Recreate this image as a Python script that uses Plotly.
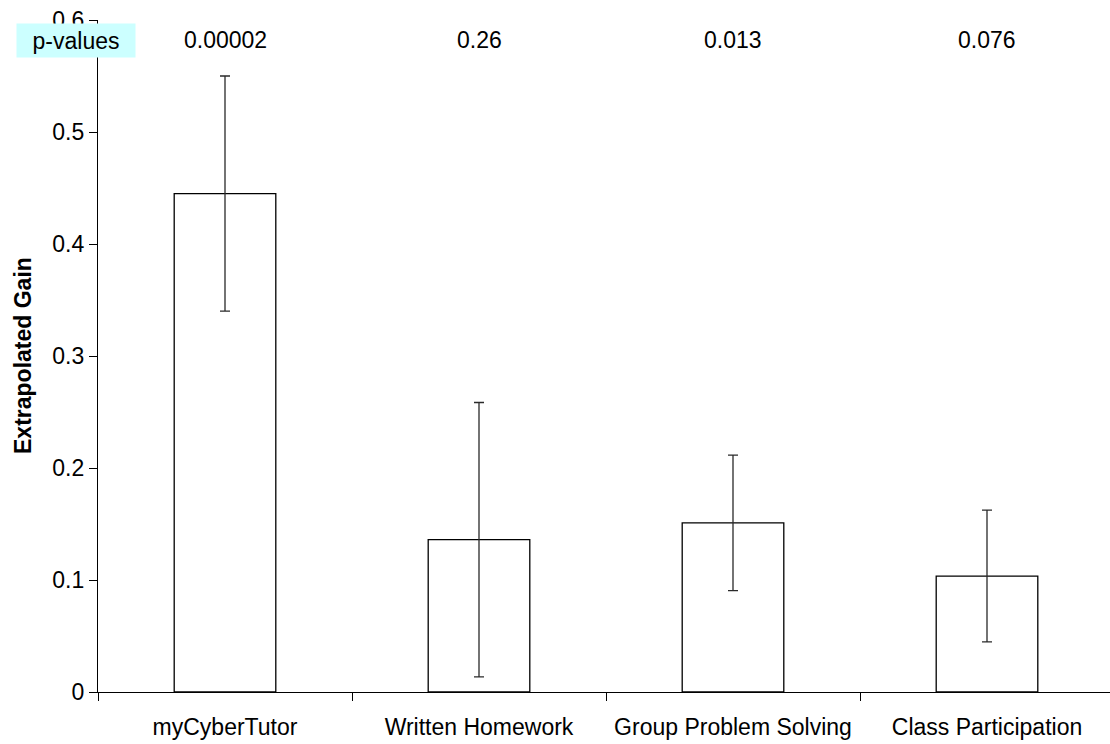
import plotly.graph_objects as go

categories = ["myCyberTutor", "Written Homework", "Group Problem Solving", "Class Participation"]
gain = [0.445, 0.136, 0.151, 0.1035]
err = [0.105, 0.1225, 0.0605, 0.0588]
p_values = ["0.00002", "0.26", "0.013", "0.076"]
y_ticks = [0, 0.1, 0.2, 0.3, 0.4, 0.5, 0.6]

FONT = "Arial, 'Liberation Sans', sans-serif"
W, H = 1110, 744
ML, MR, MT, MB = 98, 0, 20, 52

fig = go.Figure()
fig.add_trace(go.Bar(
    x=categories, y=gain, width=0.4,
    marker=dict(color="white", line=dict(color="black", width=1.3)),
    error_y=dict(type="data", array=err, visible=True, color="#2a2a2a",
                 thickness=1.3, width=5),
    showlegend=False,
))

plot_h = H - MT - MB
p_y = 1 + (MT - 40) / plot_h
for c, p in zip(categories, p_values):
    fig.add_annotation(x=c, y=p_y, xref="x", yref="paper", text=p, showarrow=False,
                       font=dict(family=FONT, size=23, color="black"),
                       xanchor="center", yanchor="middle")

plot_w = W - ML - MR
fig.add_annotation(x=(76 - ML) / plot_w, y=p_y, xref="paper", yref="paper",
                   text="p-values", showarrow=False, bgcolor="#CCFFFF",
                   width=118, height=33, borderpad=0,
                   font=dict(family=FONT, size=23, color="black"),
                   xanchor="center", yanchor="middle")

fig.add_annotation(x=(23 - ML) / plot_w, y=0.5, xref="paper", yref="paper",
                   text="<b>Extrapolated Gain</b>", textangle=-90, showarrow=False,
                   font=dict(family=FONT, size=23, color="black"),
                   xanchor="center", yanchor="middle")

n = len(categories)
fig.update_layout(
    width=W, height=H,
    margin=dict(l=ML, r=MR, t=MT, b=MB, pad=0),
    paper_bgcolor="white", plot_bgcolor="white",
    font=dict(family=FONT, size=23, color="black"),
    bargap=0.6,
    xaxis=dict(
        type="category", range=[-0.5, n - 0.5 - 4 / 254],
        showline=True, linecolor="black", linewidth=1.3,
        ticks="outside", ticklen=8, tickcolor="black", tickwidth=1.3,
        tickson="boundaries", showgrid=False, zeroline=False,
        ticklabelstandoff=14,
        tickfont=dict(family=FONT, size=23, color="black"),
    ),
    yaxis=dict(
        range=[0, 0.6], tickvals=y_ticks, ticktext=[f"{v:g}" for v in y_ticks],
        showline=True, linecolor="black", linewidth=1.3,
        ticks="outside", ticklen=8, tickcolor="black", tickwidth=1.3,
        showgrid=False, zeroline=False,
        tickfont=dict(family=FONT, size=23, color="black"),
    ),
)

fig.write_html("out.html")
